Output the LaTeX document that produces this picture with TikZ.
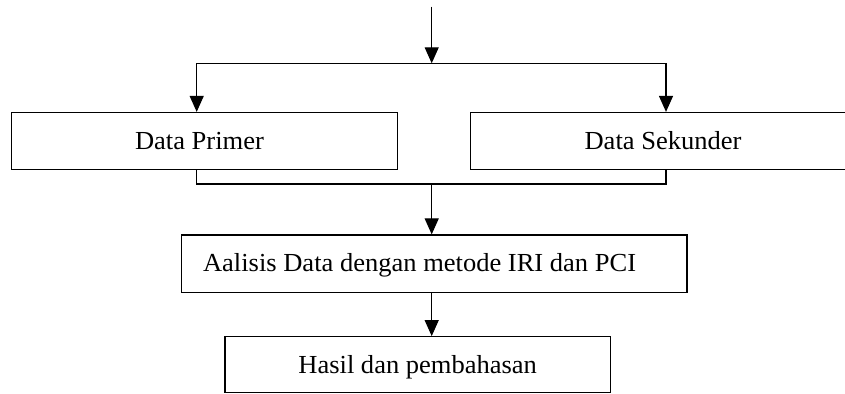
\documentclass[tikz,border=0pt]{standalone}
\usepackage{fontspec}
\setmainfont[FakeStretch=1.02]{Liberation Serif}
\usetikzlibrary{arrows.meta}

\tikzset{
	kotak/.style={draw=black, line width=0.6pt, inner sep=0pt},
	tulisan/.style={anchor=base, inner sep=0pt},
	garis/.style={line width=0.6pt},
	panah/.style={garis, -{Triangle[length=8pt, width=7pt]}}
}

\begin{document}
\begin{tikzpicture}[x=0.5pt, y=-0.5pt, font=\fontsize{13pt}{15pt}\selectfont]
	\clip (0,0) rectangle (845,394);
	% Kotak data
	\node[kotak, minimum width=193pt, minimum height=28.4pt] (primer) at (204.7,140.9) {};
	\node[tulisan] (tprimer) at (199.5,149.5) {Data Primer};
	\node[kotak, minimum width=189.75pt, minimum height=28.4pt] (sekunder) at (660.25,140.9) {};
	\node[tulisan] (tsekunder) at (663,149.5) {Data Sekunder};
	% Kotak analisis dan hasil
	\node[kotak, minimum width=252.7pt, minimum height=28.75pt] (analisis) at (434.3,263.75) {};
	\node[tulisan] (tanalisis) at (419.6,271.8) {Aalisis Data dengan metode IRI dan PCI};
	\node[kotak, minimum width=192.8pt, minimum height=28pt] (hasil) at (417.8,364.7) {};
	\node[tulisan] (thasil) at (417.7,373.3) {Hasil dan pembahasan};

	% Titik bantu
	\coordinate (mulai) at (431.7,6.7);
	\coordinate (cabang) at (431.7,63.3);
	\coordinate (kiri) at (196.7,63.3);
	\coordinate (kanan) at (666,63.3);
	\coordinate (gabung) at (431.7,184);

	% Panah atas
	\draw[panah] (mulai) -- (cabang);
	\draw[garis] (kiri) -- (kanan);
	\draw[panah] (kiri) -- (kiri |- primer.north);
	\draw[panah] (kanan) -- (kanan |- sekunder.north);
	% Gabungan bawah
	\draw[garis] (kiri |- primer.south) -- (kiri |- gabung) -- (kanan |- gabung) -- (kanan |- sekunder.south);
	\draw[panah] (gabung) -- (gabung |- analisis.north);
	\draw[panah] (gabung |- analisis.south) -- (gabung |- hasil.north);
\end{tikzpicture}
\end{document}
